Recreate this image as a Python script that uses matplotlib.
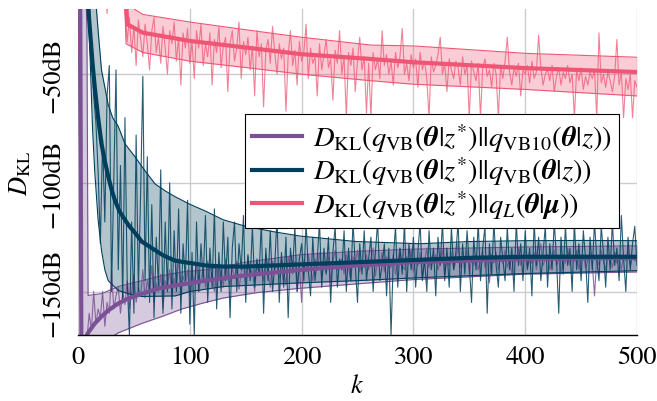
import numpy as np
import matplotlib
matplotlib.use("Agg")
import matplotlib.pyplot as plt

plt.rcParams['font.family'] = ['STIXGeneral', 'DejaVu Serif']
plt.rcParams['mathtext.fontset'] = 'stix'

# colours
C_VB10 = '#7a5195'
C_VB = '#003f5c'
C_L = '#ef5675'

# ---------------- q_VB10 (purple) ----------------
vb10_mean_k = [0, 1, 2, 3, 4, 6, 9, 15, 21, 27, 36, 45, 57, 72, 87, 114, 150, 200, 250, 300, 400, 500]
vb10_mean = [-10, -12, -15, -175, -180, -172, -169, -164.7, -161.5, -158.7, -155.5, -153.2, -151, -148.6,
             -147.2, -145, -142.5, -140, -138, -136.5, -135, -134.5]
vb10_up_k = [0, 7, 8, 9, 21, 36, 57, 75, 93, 114, 150, 200, 250, 300, 400, 500]
vb10_up = [-10, -10, -30, -151.8, -151, -147.7, -145, -142.7, -141, -140, -136.5, -133, -131.5, -130.5, -129.5, -129]
vb10_lo_k = [0, 3, 36, 57, 75, 93, 114, 130, 160, 199, 249, 300, 400, 500]
vb10_lo = [-10, -180, -169, -164.7, -161.5, -158, -155, -153, -150.5, -148.5, -146.5, -144.5, -142, -141]

# ---------------- q_VB (dark blue) ----------------
vb_mean_k = [0, 8, 10, 13, 15, 18, 21, 24, 27, 30, 33, 37, 42, 46, 51, 57, 63, 69, 75, 81, 87, 95, 102,
             114, 130, 150, 175, 200, 250, 300, 350, 400, 450, 500]
vb_mean = [-5, -10, -25, -45, -56, -70, -82, -90, -97, -103, -108, -113, -117, -120, -123, -127, -129, -131,
           -133, -134.5, -135.8, -136.5, -137, -138, -138.5, -138.5, -138, -137.5, -136.5, -135.5, -134.5,
           -134, -134, -134]
vb_up_k = [0, 15, 18, 21, 24, 27, 31, 36, 42, 51, 60, 69, 78, 87, 99, 114, 130, 150, 175, 199, 249, 306,
           350, 401, 450, 500]
vb_up = [-5, -10, -30, -48, -56, -64, -70, -74, -82, -88, -94.5, -100.5, -103.7, -106.4, -109.6, -113, -117,
         -120, -122.5, -124.5, -127, -128, -127, -126.6, -126.5, -126.6]
vb_lo_k = [0, 8, 9, 11, 13, 15, 18, 21, 24, 27, 36, 45, 57, 87, 100, 130, 199, 249, 306, 401, 500]
vb_lo = [-5, -5, -15, -45, -75, -95, -117, -131, -140, -145, -149.5, -151, -152.3, -152, -150, -147.7,
         -146, -145, -143.6, -141.7, -140.4]

# ---------------- q_L (pink) ----------------
l_mean_k = [0, 40, 43, 44, 58, 100, 148, 200, 262, 300, 400, 500]
l_mean = [-5, -5, -15, -27, -30.9, -34.7, -37.6, -40.8, -43, -44.5, -47.2, -49]
l_up_k = [0, 42, 44, 58, 100, 148, 200, 262, 300, 400, 500]
l_up = [-5, -5, -18, -22.5, -26, -29.4, -33, -36.6, -37, -40.4, -42.2]
l_lo_k = [0, 41, 43, 58, 100, 148, 200, 262, 300, 400, 500]
l_lo = [-5, -5, -36, -40, -44, -46.8, -50, -53, -54.6, -57, -60]

# ---------------- single-run traces, k = 0, 2, ..., 500 ----------------
raw_k = list(range(0, 501, 2))
vb_raw = [
    -5, -5, -5, -5, -5, -15, -40, -60, -72, -95,
    -128, -80, -118, -60, -46, -150, -98, -48, -140, -92,
    -155, -70, -145, -170, -118, -160, -78, -150, -105, -51,
    -145, -88, -155, -110, -162, -125, -148, -94, -160, -118,
    -150, -100, -158, -122, -150, -112, -160, -128, -145, -108,
    -165, -132, -170, -118, -150, -128, -145, -115, -155, -130,
    -148, -112, -158, -132, -150, -118, -145, -125, -162, -130,
    -118, -150, -128, -140, -115, -155, -133, -145, -120, -148,
    -135, -142, -118, -160, -130, -145, -122, -150, -138, -115,
    -155, -132, -148, -125, -162, -130, -140, -120, -150, -135,
    -128, -145, -118, -140, -152, -125, -145, -135, -118, -148,
    -130, -142, -125, -155, -132, -120, -148, -135, -140, -122,
    -150, -130, -145, -118, -138, -155, -128, -142, -122, -145,
    -135, -125, -150, -132, -118, -145, -138, -128, -152, -130,
    -170, -135, -120, -148, -130, -142, -118, -150, -128, -140,
    -125, -148, -132, -118, -145, -135, -150, -122, -140, -130,
    -152, -125, -138, -118, -145, -130, -148, -120, -140, -132,
    -118, -150, -128, -142, -122, -138, -155, -125, -140, -118,
    -145, -130, -120, -160, -128, -142, -118, -138, -148, -125,
    -135, -145, -120, -140, -130, -150, -118, -138, -128, -145,
    -122, -140, -130, -152, -118, -138, -125, -145, -132, -120,
    -148, -128, -140, -118, -135, -160, -125, -142, -120, -138,
    -130, -150, -118, -140, -128, -145, -122, -135, -155, -125,
    -140, -118, -135, -145, -120, -132, -148, -125, -140, -118,
    -138, -130, -145, -115, -135, -150, -125, -140, -128, -120,
    -138]
vb10_raw = [
    -5, -5, -178, -175, -172, -160, -168, -150, -165, -158,
    -162, -150, -166, -155, -160, -140, -158, -152, -148, -160,
    -150, -156, -145, -158, -150, -142, -155, -148, -152, -140,
    -153, -145, -150, -138, -155, -146, -150, -142, -158, -145,
    -148, -140, -152, -144, -149, -135, -150, -143, -147, -140,
    -152, -142, -146, -138, -150, -144, -140, -148, -136, -145,
    -142, -150, -138, -145, -140, -148, -135, -143, -147, -139,
    -144, -136, -149, -141, -138, -146, -134, -142, -140, -150,
    -137, -143, -139, -145, -133, -141, -148, -136, -140, -138,
    -144, -135, -141, -147, -134, -139, -142, -136, -150, -138,
    -155, -136, -141, -133, -139, -145, -135, -140, -132, -143,
    -137, -141, -134, -146, -136, -131, -140, -138, -135, -142,
    -133, -139, -145, -134, -137, -131, -141, -136, -139, -133,
    -140, -135, -130, -143, -136, -138, -132, -141, -134, -137,
    -139, -133, -142, -136, -130, -138, -140, -134, -137, -131,
    -141, -135, -138, -132, -144, -136, -130, -139, -134, -137,
    -133, -140, -136, -131, -142, -135, -138, -132, -140, -136,
    -128, -139, -134, -137, -131, -142, -135, -138, -133, -140,
    -136, -131, -139, -135, -146, -133, -137, -132, -140, -134,
    -137, -131, -139, -135, -142, -133, -136, -130, -138, -134,
    -131, -139, -135, -137, -132, -140, -134, -128, -138, -135,
    -133, -140, -136, -131, -138, -135, -142, -133, -137, -130,
    -138, -134, -136, -131, -140, -135, -133, -139, -136, -132,
    -137, -152, -134, -138, -131, -136, -140, -133, -135, -139,
    -132, -137, -135, -140, -133, -136, -131, -138, -134, -136,
    -135]
l_raw = [
    -43, -5, -5, -5, -5, -5, -5, -5, -5, -5,
    -5, -5, -5, -22, -5, -5, -5, -5, -5, -5,
    -5, -20, -35, -24, -40, -28, -46, -25, -34, -42,
    -27, -36, -48, -30, -24, -40, -33, -45, -28, -38,
    -50, -30, -36, -26, -44, -33, -55, -31, -38, -29,
    -45, -35, -52, -30, -38, -27, -46, -36, -42, -31,
    -55, -34, -40, -28, -47, -37, -33, -58, -36, -30,
    -44, -38, -26, -52, -35, -41, -33, -48, -37, -60,
    -30, -42, -36, -65, -39, -34, -45, -28, -40, -50,
    -36, -43, -38, -67, -41, -30, -46, -39, -55, -35,
    -44, -40, -27, -52, -38, -45, -42, -60, -36, -48,
    -41, -34, -47, -43, -62, -39, -45, -30, -50, -42,
    -70, -40, -46, -38, -58, -44, -33, -48, -42, -68,
    -45, -70, -40, -48, -43, -52, -30, -46, -41, -50,
    -44, -55, -40, -47, -42, -29, -50, -45, -53, -41,
    -47, -43, -56, -40, -48, -44, -52, -70, -42, -49,
    -46, -41, -33, -50, -45, -58, -43, -48, -52, -44,
    -47, -55, -42, -50, -46, -70, -44, -49, -53, -45,
    -70, -47, -43, -51, -48, -56, -45, -50, -70, -46,
    -52, -44, -33, -49, -55, -47, -51, -45, -60, -48,
    -50, -46, -54, -44, -52, -49, -32, -47, -55, -50,
    -48, -53, -46, -58, -51, -47, -55, -49, -52, -46,
    -54, -50, -70, -48, -53, -47, -57, -51, -55, -49,
    -52, -48, -70, -31, -54, -50, -56, -49, -53, -58,
    -51, -34, -55, -49, -70, -52, -57, -50, -70, -53,
    -56]

x_ticks = [0, 100, 200, 300, 400, 500]
y_ticks = [-150, -100, -50]
y_ticklabels = ['\u2212150dB', '\u2212100dB', '\u221250dB']
labels = [r'$D_{\mathrm{KL}}(q_{\mathrm{VB}}(\mathbfit{\theta}|z^{*})||q_{\mathrm{VB10}}(\mathbfit{\theta}|z))$',
          r'$D_{\mathrm{KL}}(q_{\mathrm{VB}}(\mathbfit{\theta}|z^{*})||q_{\mathrm{VB}}(\mathbfit{\theta}|z))$',
          r'$D_{\mathrm{KL}}(q_{\mathrm{VB}}(\mathbfit{\theta}|z^{*})||q_{L}(\mathbfit{\theta}|\mathbfit{\mu}))$']

fig = plt.figure(figsize=(6.57, 4.02), dpi=100)
ax = fig.add_axes([78 / 657, 1 - 336 / 402, (637 - 78) / 657, (336 - 10) / 402])


def band_series(mk, mv, uk, uv, lk, lv, rv, color, label, raw_alpha):
    grid = np.union1d(np.union1d(uk, lk), raw_k)
    up = np.interp(grid, uk, uv)
    lo = np.interp(grid, lk, lv)
    ax.fill_between(grid, lo, up, color=color, alpha=0.3, lw=0, zorder=2)
    ax.plot(uk, uv, color=color, lw=0.8, zorder=3)
    ax.plot(lk, lv, color=color, lw=0.8, zorder=3)
    ax.plot(raw_k, rv, color=color, lw=0.8, alpha=raw_alpha, zorder=3)
    ax.plot(mk, mv, color=color, lw=3, zorder=4, label=label)


band_series(vb10_mean_k, vb10_mean, vb10_up_k, vb10_up, vb10_lo_k, vb10_lo, vb10_raw, C_VB10, labels[0], 0.85)
band_series(vb_mean_k, vb_mean, vb_up_k, vb_up, vb_lo_k, vb_lo, vb_raw, C_VB, labels[1], 0.85)
band_series(l_mean_k, l_mean, l_up_k, l_up, l_lo_k, l_lo, l_raw, C_L, labels[2], 0.75)

ax.set_xlim(0, 500)
ax.set_ylim(-170, -20)
ax.set_xticks(x_ticks)
ax.set_yticks(y_ticks)
ax.set_yticklabels(y_ticklabels, rotation=90, va='center')
ax.tick_params(length=0, labelsize=19)
ax.tick_params(axis='x', pad=7)
ax.tick_params(axis='y', pad=9)
ax.grid(True, color='#cccccc', lw=1)
ax.set_axisbelow(True)
for s in ['top', 'right', 'left']:
    ax.spines[s].set_visible(False)
ax.spines['bottom'].set_color('black')
ax.spines['bottom'].set_linewidth(1.0)
ax.spines['bottom'].set_zorder(5)

ax.set_xlabel(r'$k$', fontsize=19, labelpad=4)
ax.set_ylabel(r'$D_{\mathrm{KL}}$', fontsize=19, labelpad=6)

leg = ax.legend(loc='lower right', bbox_to_anchor=(0.968, 0.328), borderaxespad=0, fontsize=20.5,
                fancybox=False, edgecolor='black', framealpha=1, handlelength=1.75, handletextpad=0.4,
                labelspacing=0.02, borderpad=0.25)
leg.get_frame().set_linewidth(0.8)
leg.set_zorder(10)

fig.savefig('out.png', dpi=100)
